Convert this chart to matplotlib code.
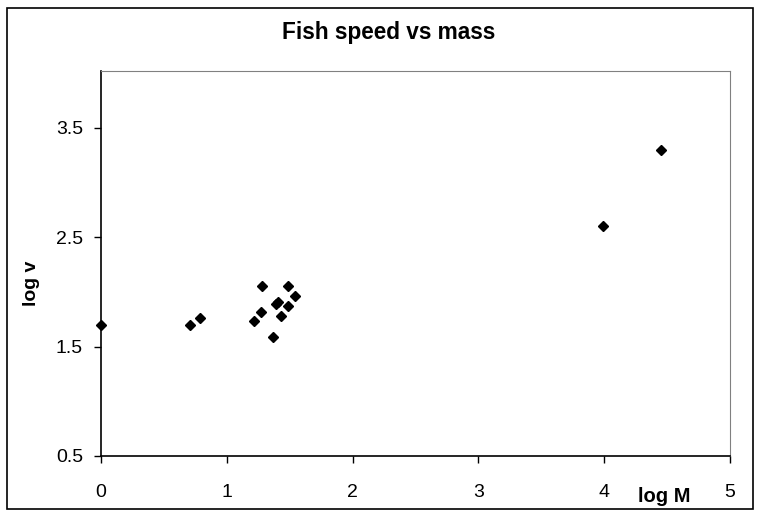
import numpy as np
from matplotlib import pyplot as plt
from matplotlib.patches import Rectangle

plt.rcParams['font.family'] = ['Liberation Sans', 'DejaVu Sans']

# data
logM = [0.0, 0.71, 0.79, 1.22, 1.27, 1.28, 1.37, 1.39, 1.41, 1.43, 1.49, 1.49, 1.54, 3.99, 4.45]
logV = [1.70, 1.70, 1.76, 1.73, 1.82, 2.05, 1.59, 1.89, 1.91, 1.78, 2.05, 1.87, 1.96, 2.60, 3.30]
xTicks = [0, 1, 2, 3, 4, 5]
yTicks = [0.5, 1.5, 2.5, 3.5]

#
fig = plt.figure( figsize=(7.6, 5.16), dpi=100 )
ax = fig.add_axes( [ 101/760, 1-456/516, 629/760, 385/516 ] )

ax.plot( logM, logV, 'D', color='black', markersize=4.8, clip_on=False, zorder=5 )

ax.set_xlim( 0, 5 )
ax.set_ylim( 0.5, 4.02 )
ax.set_xticks( xTicks )
ax.set_yticks( yTicks )
ax.set_xticklabels( [ str(t) for t in xTicks ] )
ax.set_yticklabels( [ str(t) for t in yTicks ] )
ax.tick_params( labelsize=14, length=5, width=1, color='black' )
ax.tick_params( axis='x', pad=15 )
ax.tick_params( axis='y', pad=8 )

for side in [ 'top', 'right' ]:
    ax.spines[ side ].set_color( '#808080' )
for side in [ 'left', 'bottom' ]:
    ax.spines[ side ].set_color( 'black' )
    ax.spines[ side ].set_linewidth( 1.2 )

# title and axis labels, Excel-style placement
fig.text( 389/760, 1-33/516, 'Fish speed vs mass', ha='center', va='center',
          fontsize=16.3, fontweight='bold' )
fig.text( 664/760, 1-496/516, 'log M', ha='center', va='center',
          fontsize=14.5, fontweight='bold' )
fig.text( 32/760, 1-283/516, 'log v', ha='center', va='center', rotation=90,
          fontsize=14, fontweight='bold' )

# outer chart border
fig.patches.append( Rectangle( (7/760, 1-509/516), 746/760, 501/516,
                               transform=fig.transFigure, fill=False,
                               edgecolor='black', linewidth=1.2 ) )

fig.savefig( 'out.png', dpi=100 )
